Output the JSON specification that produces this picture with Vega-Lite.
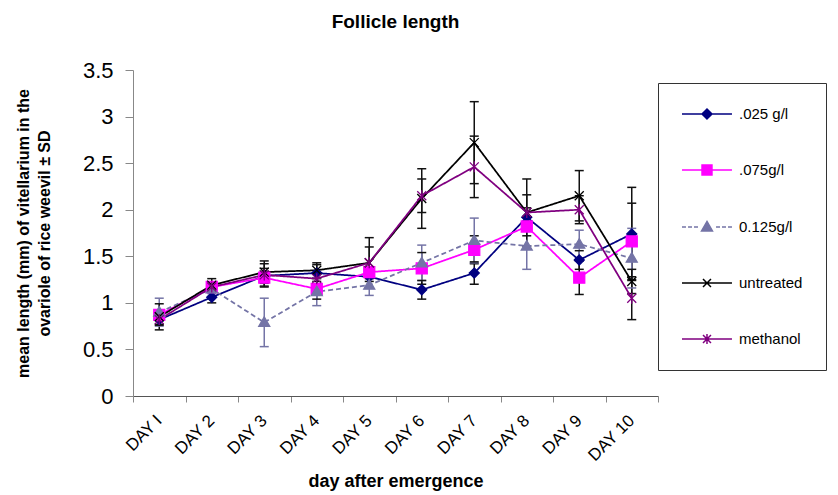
{
  "$schema": "https://vega.github.io/schema/vega-lite/v6.json",
  "autosize": {"type": "none"},
  "width": 525,
  "height": 326,
  "padding": {"left": 133, "top": 70, "right": 180, "bottom": 99},
  "background": "white",
  "config": {"view": {"stroke": null}, "font": "Liberation Sans"},
  "title": {"text": "Follicle length", "fontSize": 19, "fontWeight": "bold", "font": "Liberation Sans", "anchor": "middle", "frame": "group", "offset": 27, "color": "black"},
  "data": {"values": [
    {"series": ".025 g/l", "day": "DAY I", "d": 1, "mean": 0.82, "lo": 0.77, "hi": 0.87},
    {"series": ".025 g/l", "day": "DAY 2", "d": 2, "mean": 1.06, "lo": 1.0, "hi": 1.12},
    {"series": ".025 g/l", "day": "DAY 3", "d": 3, "mean": 1.29, "lo": 1.24, "hi": 1.34},
    {"series": ".025 g/l", "day": "DAY 4", "d": 4, "mean": 1.32, "lo": 1.23, "hi": 1.41},
    {"series": ".025 g/l", "day": "DAY 5", "d": 5, "mean": 1.28, "lo": 1.23, "hi": 1.33},
    {"series": ".025 g/l", "day": "DAY 6", "d": 6, "mean": 1.14, "lo": 1.04, "hi": 1.24},
    {"series": ".025 g/l", "day": "DAY 7", "d": 7, "mean": 1.32, "lo": 1.2, "hi": 1.44},
    {"series": ".025 g/l", "day": "DAY 8", "d": 8, "mean": 1.92, "lo": 1.82, "hi": 2.02},
    {"series": ".025 g/l", "day": "DAY 9", "d": 9, "mean": 1.46, "lo": 1.36, "hi": 1.56},
    {"series": ".025 g/l", "day": "DAY 10", "d": 10, "mean": 1.74, "lo": 1.24, "hi": 2.24},
    {"series": ".075g/l", "day": "DAY I", "d": 1, "mean": 0.87, "lo": 0.82, "hi": 0.92},
    {"series": ".075g/l", "day": "DAY 2", "d": 2, "mean": 1.17, "lo": 1.12, "hi": 1.22},
    {"series": ".075g/l", "day": "DAY 3", "d": 3, "mean": 1.27, "lo": 1.17, "hi": 1.37},
    {"series": ".075g/l", "day": "DAY 4", "d": 4, "mean": 1.15, "lo": 1.04, "hi": 1.26},
    {"series": ".075g/l", "day": "DAY 5", "d": 5, "mean": 1.33, "lo": 1.28, "hi": 1.38},
    {"series": ".075g/l", "day": "DAY 6", "d": 6, "mean": 1.37, "lo": 1.2, "hi": 1.54},
    {"series": ".075g/l", "day": "DAY 7", "d": 7, "mean": 1.57, "lo": 1.42, "hi": 1.72},
    {"series": ".075g/l", "day": "DAY 8", "d": 8, "mean": 1.82, "lo": 1.72, "hi": 1.92},
    {"series": ".075g/l", "day": "DAY 9", "d": 9, "mean": 1.27, "lo": 1.09, "hi": 1.45},
    {"series": ".075g/l", "day": "DAY 10", "d": 10, "mean": 1.66, "lo": 1.25, "hi": 2.07},
    {"series": "0.125g/l", "day": "DAY I", "d": 1, "mean": 0.9, "lo": 0.75, "hi": 1.05},
    {"series": "0.125g/l", "day": "DAY 2", "d": 2, "mean": 1.15, "lo": 1.1, "hi": 1.2},
    {"series": "0.125g/l", "day": "DAY 3", "d": 3, "mean": 0.79, "lo": 0.53, "hi": 1.05},
    {"series": "0.125g/l", "day": "DAY 4", "d": 4, "mean": 1.12, "lo": 0.97, "hi": 1.27},
    {"series": "0.125g/l", "day": "DAY 5", "d": 5, "mean": 1.19, "lo": 1.08, "hi": 1.3},
    {"series": "0.125g/l", "day": "DAY 6", "d": 6, "mean": 1.43, "lo": 1.24, "hi": 1.62},
    {"series": "0.125g/l", "day": "DAY 7", "d": 7, "mean": 1.67, "lo": 1.43, "hi": 1.91},
    {"series": "0.125g/l", "day": "DAY 8", "d": 8, "mean": 1.61, "lo": 1.36, "hi": 1.86},
    {"series": "0.125g/l", "day": "DAY 9", "d": 9, "mean": 1.63, "lo": 1.48, "hi": 1.78},
    {"series": "0.125g/l", "day": "DAY 10", "d": 10, "mean": 1.48, "lo": 1.16, "hi": 1.8},
    {"series": "untreated", "day": "DAY I", "d": 1, "mean": 0.85, "lo": 0.71, "hi": 0.99},
    {"series": "untreated", "day": "DAY 2", "d": 2, "mean": 1.19, "lo": 1.12, "hi": 1.26},
    {"series": "untreated", "day": "DAY 3", "d": 3, "mean": 1.33, "lo": 1.21, "hi": 1.45},
    {"series": "untreated", "day": "DAY 4", "d": 4, "mean": 1.35, "lo": 1.27, "hi": 1.43},
    {"series": "untreated", "day": "DAY 5", "d": 5, "mean": 1.43, "lo": 1.16, "hi": 1.7},
    {"series": "untreated", "day": "DAY 6", "d": 6, "mean": 2.12, "lo": 1.8, "hi": 2.44},
    {"series": "untreated", "day": "DAY 7", "d": 7, "mean": 2.72, "lo": 2.28, "hi": 3.16},
    {"series": "untreated", "day": "DAY 8", "d": 8, "mean": 1.97, "lo": 1.61, "hi": 2.33},
    {"series": "untreated", "day": "DAY 9", "d": 9, "mean": 2.15, "lo": 1.88, "hi": 2.42},
    {"series": "untreated", "day": "DAY 10", "d": 10, "mean": 1.23, "lo": 1.1, "hi": 1.36},
    {"series": "methanol", "day": "DAY I", "d": 1, "mean": 0.82, "lo": 0.76, "hi": 0.88},
    {"series": "methanol", "day": "DAY 2", "d": 2, "mean": 1.17, "lo": 1.12, "hi": 1.22},
    {"series": "methanol", "day": "DAY 3", "d": 3, "mean": 1.3, "lo": 1.18, "hi": 1.42},
    {"series": "methanol", "day": "DAY 4", "d": 4, "mean": 1.26, "lo": 1.2, "hi": 1.32},
    {"series": "methanol", "day": "DAY 5", "d": 5, "mean": 1.43, "lo": 1.26, "hi": 1.6},
    {"series": "methanol", "day": "DAY 6", "d": 6, "mean": 2.15, "lo": 1.97, "hi": 2.33},
    {"series": "methanol", "day": "DAY 7", "d": 7, "mean": 2.46, "lo": 2.13, "hi": 2.79},
    {"series": "methanol", "day": "DAY 8", "d": 8, "mean": 1.97, "lo": 1.78, "hi": 2.16},
    {"series": "methanol", "day": "DAY 9", "d": 9, "mean": 2.0, "lo": 1.85, "hi": 2.15},
    {"series": "methanol", "day": "DAY 10", "d": 10, "mean": 1.05, "lo": 0.82, "hi": 1.28}
  ]},
  "encoding": {
    "x": {
      "field": "day", "type": "nominal",
      "scale": {"type": "band", "paddingInner": 0, "paddingOuter": 0, "domain": ["DAY I", "DAY 2", "DAY 3", "DAY 4", "DAY 5", "DAY 6", "DAY 7", "DAY 8", "DAY 9", "DAY 10"]},
      "axis": {"title": "day after emergence", "tickBand": "extent", "labelAngle": -45, "labelFontSize": 17, "labelColor": "black", "labelFont": "Liberation Sans", "tickSize": 6, "tickColor": "#888888", "domainColor": "#555555", "titleFontSize": 18, "titleFontWeight": "bold", "titleColor": "black", "titleFont": "Liberation Sans", "titlePadding": 9, "grid": false, "labelPadding": 10, "labelOffset": -6}
    }
  },
  "layer": [
    {
      "mark": {"type": "rule", "strokeWidth": 1.5},
      "encoding": {
        "y": {"field": "lo", "type": "quantitative", "scale": {"domain": [0, 3.5], "nice": false},
          "axis": {"values": [0, 0.5, 1, 1.5, 2, 2.5, 3, 3.5], "format": "~g", "title": ["mean length (mm) of vitellarium in the", "ovariole of rice weevil ± SD"], "titleFontSize": 16, "titleFontWeight": "bold", "titleColor": "black", "titleFont": "Liberation Sans", "titleLineHeight": 21, "titlePadding": 30, "labelFontSize": 22, "labelColor": "black", "labelFont": "Liberation Sans", "tickSize": 8, "tickColor": "#888888", "domainColor": "#888888", "grid": false, "labelPadding": 12}},
        "y2": {"field": "hi"},
        "color": {"condition": {"test": "datum.series === '0.125g/l'", "value": "#7474a6"}, "value": "#111111"}
      }
    },
    {
      "mark": {"type": "tick", "orient": "horizontal", "size": 9, "thickness": 1.5, "opacity": 1},
      "encoding": {
        "y": {"field": "lo", "type": "quantitative",
          "axis": {"values": [0, 0.5, 1, 1.5, 2, 2.5, 3, 3.5], "format": "~g", "title": ["mean length (mm) of vitellarium in the", "ovariole of rice weevil ± SD"], "titleFontSize": 16, "titleFontWeight": "bold", "titleColor": "black", "titleFont": "Liberation Sans", "titleLineHeight": 21, "titlePadding": 30, "labelFontSize": 22, "labelColor": "black", "labelFont": "Liberation Sans", "tickSize": 8, "tickColor": "#888888", "domainColor": "#888888", "grid": false, "labelPadding": 12}},
        "color": {"condition": {"test": "datum.series === '0.125g/l'", "value": "#7474a6"}, "value": "#111111"}
      }
    },
    {
      "mark": {"type": "tick", "orient": "horizontal", "size": 9, "thickness": 1.5, "opacity": 1},
      "encoding": {
        "y": {"field": "hi", "type": "quantitative",
          "axis": {"values": [0, 0.5, 1, 1.5, 2, 2.5, 3, 3.5], "format": "~g", "title": ["mean length (mm) of vitellarium in the", "ovariole of rice weevil ± SD"], "titleFontSize": 16, "titleFontWeight": "bold", "titleColor": "black", "titleFont": "Liberation Sans", "titleLineHeight": 21, "titlePadding": 30, "labelFontSize": 22, "labelColor": "black", "labelFont": "Liberation Sans", "tickSize": 8, "tickColor": "#888888", "domainColor": "#888888", "grid": false, "labelPadding": 12}},
        "color": {"condition": {"test": "datum.series === '0.125g/l'", "value": "#7474a6"}, "value": "#111111"}
      }
    },
    {
      "mark": {"type": "line", "strokeWidth": 1.75},
      "encoding": {
        "y": {
          "field": "mean", "type": "quantitative",
          "axis": {"values": [0, 0.5, 1, 1.5, 2, 2.5, 3, 3.5], "format": "~g", "title": ["mean length (mm) of vitellarium in the", "ovariole of rice weevil ± SD"], "titleFontSize": 16, "titleFontWeight": "bold", "titleColor": "black", "titleFont": "Liberation Sans", "titleLineHeight": 21, "titlePadding": 30, "labelFontSize": 22, "labelColor": "black", "labelFont": "Liberation Sans", "tickSize": 8, "tickColor": "#888888", "domainColor": "#888888", "grid": false, "labelPadding": 12}
        },
        "color": {"field": "series", "type": "nominal", "legend": null, "scale": {"domain": [".025 g/l", ".075g/l", "0.125g/l", "untreated", "methanol"], "range": ["#000080", "#ff00ff", "#7474a6", "#000000", "#800080"]}},
        "strokeDash": {"field": "series", "type": "nominal", "legend": null, "scale": {"domain": [".025 g/l", ".075g/l", "0.125g/l", "untreated", "methanol"], "range": [[1, 0], [1, 0], [5, 3], [1, 0], [1, 0]]}},
        "order": {"field": "d", "type": "quantitative"}
      }
    },
    {
      "mark": {"type": "point", "filled": true, "size": 100, "opacity": 1, "strokeWidth": 1.3},
      "encoding": {
        "y": {"field": "mean", "type": "quantitative",
          "axis": {"values": [0, 0.5, 1, 1.5, 2, 2.5, 3, 3.5], "format": "~g", "title": ["mean length (mm) of vitellarium in the", "ovariole of rice weevil ± SD"], "titleFontSize": 16, "titleFontWeight": "bold", "titleColor": "black", "titleFont": "Liberation Sans", "titleLineHeight": 21, "titlePadding": 30, "labelFontSize": 22, "labelColor": "black", "labelFont": "Liberation Sans", "tickSize": 8, "tickColor": "#888888", "domainColor": "#888888", "grid": false, "labelPadding": 12}},
        "shape": {"field": "series", "type": "nominal", "legend": null, "scale": {"domain": [".025 g/l", ".075g/l", "0.125g/l", "untreated", "methanol"], "range": ["M0,-1L1,0L0,1L-1,0Z", "M-1.1,-1.1H1.1V1.1H-1.1Z", "M0,-1.1L1.1,0.8L-1.1,0.8Z", "M-0.9,-0.9L0.9,0.9M-0.9,0.9L0.9,-0.9", "M-0.9,-0.9L0.9,0.9M-0.9,0.9L0.9,-0.9M0,-1.1V1.1"]}},
        "fill": {"field": "series", "type": "nominal", "legend": null, "scale": {"domain": [".025 g/l", ".075g/l", "0.125g/l", "untreated", "methanol"], "range": ["#000080", "#ff00ff", "#7474a6", "#000000", "#800080"]}},
        "stroke": {"field": "series", "type": "nominal", "legend": null, "scale": {"domain": [".025 g/l", ".075g/l", "0.125g/l", "untreated", "methanol"], "range": ["#000080", "#ff00ff", "#7474a6", "#000000", "#800080"]}}
      }
    },
    {
      "transform": [{"filter": "false"}],
      "mark": {"type": "point", "filled": true, "size": 196, "opacity": 1, "strokeWidth": 1.5},
      "encoding": {
        "shape": {"field": "series", "type": "nominal",
          "scale": {"domain": [".025 g/l", ".075g/l", "0.125g/l", "untreated", "methanol"], "range": [
            "M-1,0H6.14M2.57,-0.71L3.28,0L2.57,0.71L1.86,0Z",
            "M-1,0H6.14M1.86,-0.71H3.28V0.71H1.86Z",
            "M-1,0H-0.43M-0.14,0H0.43M0.71,0H1.29M3.86,0H4.43M4.71,0H5.29M5.57,0H6.14M2.57,-0.79L3.35,0.57L1.79,0.57Z",
            "M-1,0H6.14M2,-0.57L3.14,0.57M2,0.57L3.14,-0.57",
            "M-1,0H6.14M2,-0.57L3.14,0.57M2,0.57L3.14,-0.57M2.57,-0.71V0.71"]},
          "legend": {"orient": "none", "legendX": 525, "legendY": 13, "title": null, "symbolSize": 196, "symbolStrokeWidth": 1.5, "labelFontSize": 15, "labelFont": "Liberation Sans", "labelColor": "black", "labelOffset": 42, "rowPadding": 40, "padding": 23, "strokeColor": "#333333", "fillColor": "white", "symbolOpacity": 1, "labelLimit": 200}},
        "fill": {"field": "series", "type": "nominal", "scale": {"domain": [".025 g/l", ".075g/l", "0.125g/l", "untreated", "methanol"], "range": ["#000080", "#ff00ff", "#7474a6", "#000000", "#800080"]},
          "legend": {"orient": "none", "legendX": 525, "legendY": 13, "title": null, "symbolSize": 196, "symbolStrokeWidth": 1.5, "labelFontSize": 15, "labelFont": "Liberation Sans", "labelColor": "black", "labelOffset": 42, "rowPadding": 40, "padding": 23, "strokeColor": "#333333", "fillColor": "white", "symbolOpacity": 1, "labelLimit": 200}},
        "stroke": {"field": "series", "type": "nominal", "scale": {"domain": [".025 g/l", ".075g/l", "0.125g/l", "untreated", "methanol"], "range": ["#000080", "#ff00ff", "#7474a6", "#000000", "#800080"]},
          "legend": {"orient": "none", "legendX": 525, "legendY": 13, "title": null, "symbolSize": 196, "symbolStrokeWidth": 1.5, "labelFontSize": 15, "labelFont": "Liberation Sans", "labelColor": "black", "labelOffset": 42, "rowPadding": 40, "padding": 23, "strokeColor": "#333333", "fillColor": "white", "symbolOpacity": 1, "labelLimit": 200}}
      }
    }
  ],
  "resolve": {"scale": {"shape": "independent", "fill": "independent", "stroke": "independent"}}
}
